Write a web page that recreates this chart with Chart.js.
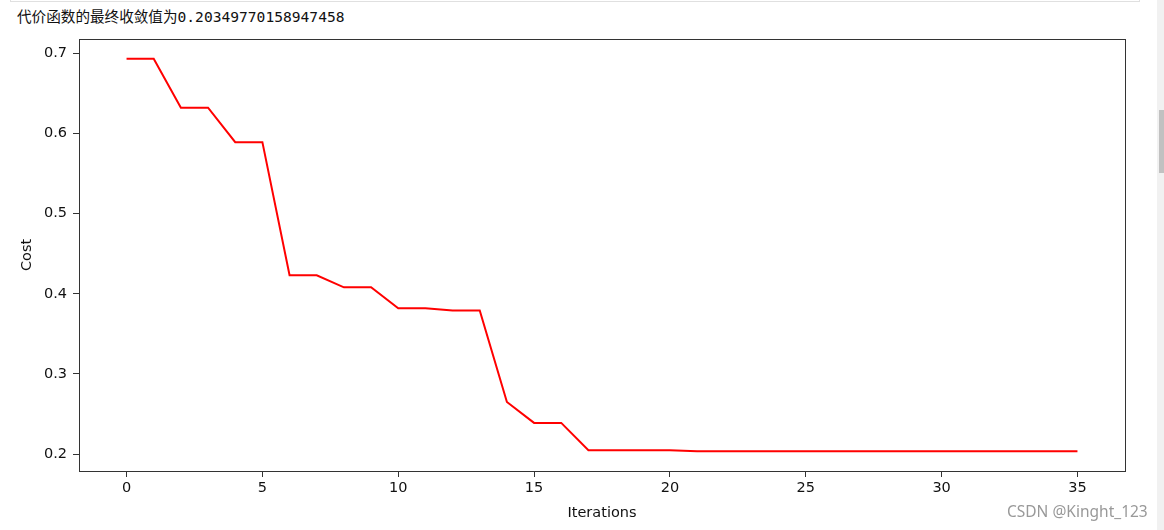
<!DOCTYPE html>
<html>
<head>
<meta charset="utf-8">
<script src="https://cdn.jsdelivr.net/npm/chart.js@4"></script>
<style>
    html, body { margin: 0; padding: 0; background: #fff; overflow: hidden; }
    #wrap { position: relative; width: 1164px; height: 530px; }
    #cell { position: absolute; left: 10px; top: -2px; width: 1128px; height: 3px; border: 1px solid #e0e0e0; border-top: none; }
    #out { position: absolute; left: 17px; top: 5px; font-size: 14.6px; color: #111; font-family: "DejaVu Sans Mono", "Noto Sans CJK SC", monospace; white-space: nowrap; }
    #out span { font-family: "Noto Sans CJK SC", sans-serif; }
    #mark { position: absolute; left: 1007px; top: 500px; font-size: 15.5px; color: #999; font-family: "Noto Sans", "DejaVu Sans", sans-serif; }
    #bar { position: absolute; left: 1157px; top: 0; width: 7px; height: 530px; background: #f1f1f1; }
    #thumb { position: absolute; left: 2px; top: 110px; width: 5px; height: 63px; background: #c1c1c1; }
    canvas { position: absolute; left: 0; top: 0; }
</style>
</head>
<body>
<div id="wrap">
    <div id="cell"></div>
    <div id="out"><span>代价函数的最终收敛值为</span>0.20349770158947458</div>
    <canvas id="mycanvas" width="1164" height="530"></canvas>
    <div id="mark">CSDN @Kinght_123</div>
    <div id="bar"><div id="thumb"></div></div>
</div>
<script>
// cost per iteration
var iterations = [];
for (var i = 0; i <= 35; i++) iterations.push(i);
var costs = [0.693, 0.693, 0.632, 0.632, 0.589, 0.589, 0.423, 0.423, 0.408, 0.408,
             0.382, 0.382, 0.379, 0.379, 0.265, 0.239, 0.239, 0.205, 0.205, 0.205,
             0.205, 0.2035, 0.2035, 0.2035, 0.2035, 0.2035, 0.2035, 0.2035, 0.2035, 0.2035,
             0.2035, 0.2035, 0.2035, 0.2035, 0.2035, 0.2035];
var xTicks = [0, 5, 10, 15, 20, 25, 30, 35];
var yTicks = [0.2, 0.3, 0.4, 0.5, 0.6, 0.7];

var points = [];
for (var j in iterations) {
    points.push({ x: iterations[j], y: costs[j] });
}

var tickFont = { family: "DejaVu Sans", size: 14.5 };

// matplotlib style box around the plot
var frame = {
    id: 'frame',
    afterDraw: function (chart) {
        var a = chart.chartArea, c = chart.ctx;
        c.save();
        c.strokeStyle = '#333';
        c.lineWidth = 1;
        c.strokeRect(Math.round(a.left) + 0.5, Math.round(a.top) + 0.5,
            Math.round(a.right - a.left), Math.round(a.bottom - a.top));
        c.restore();
    }
};

var ctx = document.getElementById('mycanvas');
var lineGraph = new Chart(ctx, {
    type: 'line',
    data: {
        datasets: [{
            label: 'Cost',
            data: points,
            borderColor: '#ff0000',
            borderWidth: 2,
            pointRadius: 0,
            tension: 0,
            fill: false
        }]
    },
    options: {
        responsive: false,
        animation: false,
        layout: { padding: { top: 39, right: 39, left: 0, bottom: 0 } },
        plugins: {
            legend: { display: false },
            tooltip: { enabled: false }
        },
        scales: {
            x: {
                type: 'linear',
                min: -1.75,
                max: 36.75,
                afterBuildTicks: function (axis) {
                    axis.ticks = xTicks.map(function (v) { return { value: v }; });
                },
                afterFit: function (axis) { axis.height = 59; },
                grid: { drawOnChartArea: false, drawTicks: true, tickLength: 6, color: '#333' },
                border: { display: false },
                ticks: { color: '#111', font: tickFont, padding: 3, maxRotation: 0 },
                title: { display: true, text: 'Iterations', color: '#111', font: tickFont, padding: { top: 0, bottom: 8 } }
            },
            y: {
                min: 0.179,
                max: 0.7176,
                afterBuildTicks: function (axis) {
                    axis.ticks = yTicks.map(function (v) { return { value: v }; });
                },
                afterFit: function (axis) { axis.width = 79; },
                grid: { drawOnChartArea: false, drawTicks: true, tickLength: 6, color: '#333' },
                border: { display: false },
                ticks: { color: '#111', font: tickFont, padding: 6, callback: function (v) { return v.toFixed(1); } },
                title: { display: true, text: 'Cost', color: '#111', font: tickFont, padding: { top: 19, bottom: 0 } }
            }
        }
    },
    plugins: [frame]
});
</script>
</body>
</html>
